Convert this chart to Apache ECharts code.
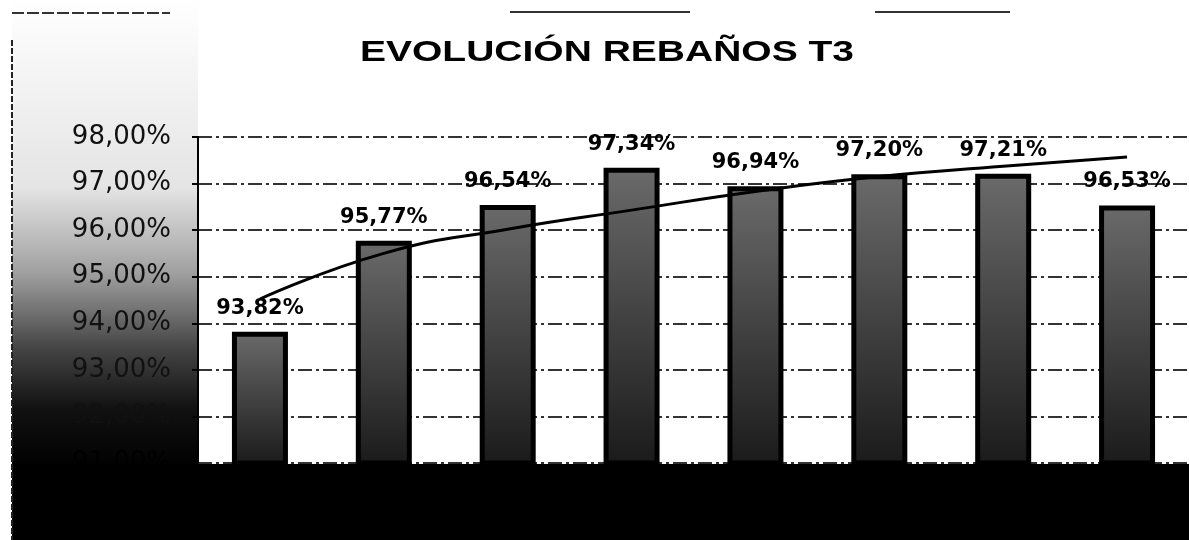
<!DOCTYPE html>
<html>
<head>
<meta charset="utf-8">
<title>Evolución rebaños T3</title>
<script src="https://cdn.jsdelivr.net/npm/echarts@6/dist/echarts.min.js"></script>
<style>
    html, body { margin: 0; padding: 0; background: #fff; }
    #chart { width: 1189px; height: 540px; }
</style>
</head>
<body>
<div id="chart"></div>
<script>
// datos
var titulo = 'EVOLUCIÓN REBAÑOS T3';
var periodos = ['P1', 'P2', 'P3', 'P4', 'P5', 'P6', 'P7', 'P8'];
var rebanos = [93.82, 95.77, 96.54, 97.34, 96.94, 97.20, 97.21, 96.53];
// linea de tendencia
var tendencia = [94.52, 95.50, 96.02, 96.43, 96.83, 97.15, 97.37, 97.57];

function pct(v) {
    return v.toFixed(2).replace('.', ',') + '%';
}

var chart = echarts.init(document.getElementById('chart'));

var option = {
    backgroundColor: '#fff',
    animation: false,
    graphic: [
        // fondo oscuro a la izquierda del eje
        {
            type: 'rect', z: -10, silent: true,
            shape: { x: 12, y: 0, width: 186, height: 470 },
            style: {
                fill: new echarts.graphic.LinearGradient(0, 0, 0, 1, [
                    { offset: 0, color: '#ffffff' },
                    { offset: 0.4, color: '#e4e4e4' },
                    { offset: 0.58, color: '#a0a0a0' },
                    { offset: 0.74, color: '#454545' },
                    { offset: 0.87, color: '#111' },
                    { offset: 1, color: '#000' }
                ])
            }
        },
        // banda negra inferior
        {
            type: 'rect', z: -10, silent: true,
            shape: { x: 12, y: 464, width: 1177, height: 76 },
            style: { fill: '#000' }
        },
        // marco
        {
            type: 'line', silent: true,
            shape: { x1: 12, y1: 40, x2: 12, y2: 540 },
            style: { stroke: '#222', lineWidth: 2, lineDash: [6, 2] }
        },
        {
            type: 'line', silent: true,
            shape: { x1: 12, y1: 13, x2: 170, y2: 13 },
            style: { stroke: '#333', lineWidth: 2, lineDash: [12, 3] }
        },
        {
            type: 'line', silent: true,
            shape: { x1: 510, y1: 12, x2: 690, y2: 12 },
            style: { stroke: '#333', lineWidth: 2 }
        },
        {
            type: 'line', silent: true,
            shape: { x1: 875, y1: 12, x2: 1010, y2: 12 },
            style: { stroke: '#333', lineWidth: 2 }
        },
        // titulo (letra ancha)
        {
            type: 'text',
            x: 607,
            y: 53,
            scaleX: 1.3,
            style: {
                text: titulo,
                font: 'bold 30px "Liberation Sans"',
                fill: '#000',
                align: 'center',
                verticalAlign: 'middle'
            }
        }
    ],
    grid: {
        left: 198,
        right: -6,
        top: 137,
        bottom: 77
    },
    xAxis: {
        type: 'category',
        data: periodos,
        axisLine: { show: false },
        axisTick: { show: false },
        axisLabel: { show: false }
    },
    yAxis: {
        type: 'value',
        min: 91,
        max: 98,
        interval: 1,
        axisLine: { show: true, lineStyle: { color: '#000', width: 2 } },
        axisTick: { show: true, length: 6, lineStyle: { color: '#000', width: 2 } },
        axisLabel: {
            margin: 27,
            fontFamily: 'DejaVu Sans',
            fontSize: 26,
            color: function (v) { return v < 92 ? '#000' : '#111'; },
            formatter: pct
        },
        splitLine: {
            show: true,
            lineStyle: { color: '#333', width: 2, type: [14, 4, 3, 4] }
        }
    },
    series: [
        {
            type: 'bar',
            data: rebanos,
            barWidth: 56,
            z: 2,
            itemStyle: {
                color: new echarts.graphic.LinearGradient(0, 0, 0, 1, [
                    { offset: 0, color: '#6a6a6a' },
                    { offset: 1, color: '#1a1a1a' }
                ]),
                borderColor: '#000',
                borderWidth: 5
            },
            label: {
                show: true,
                position: 'top',
                distance: 13,
                fontFamily: 'DejaVu Sans',
                fontWeight: 'bold',
                fontSize: 21,
                color: '#000',
                formatter: function (p) { return pct(p.value); }
            }
        },
        {
            type: 'line',
            data: tendencia,
            smooth: true,
            symbol: 'none',
            z: 3,
            lineStyle: { color: '#000', width: 3 }
        }
    ]
};

chart.setOption(option);
</script>
</body>
</html>
